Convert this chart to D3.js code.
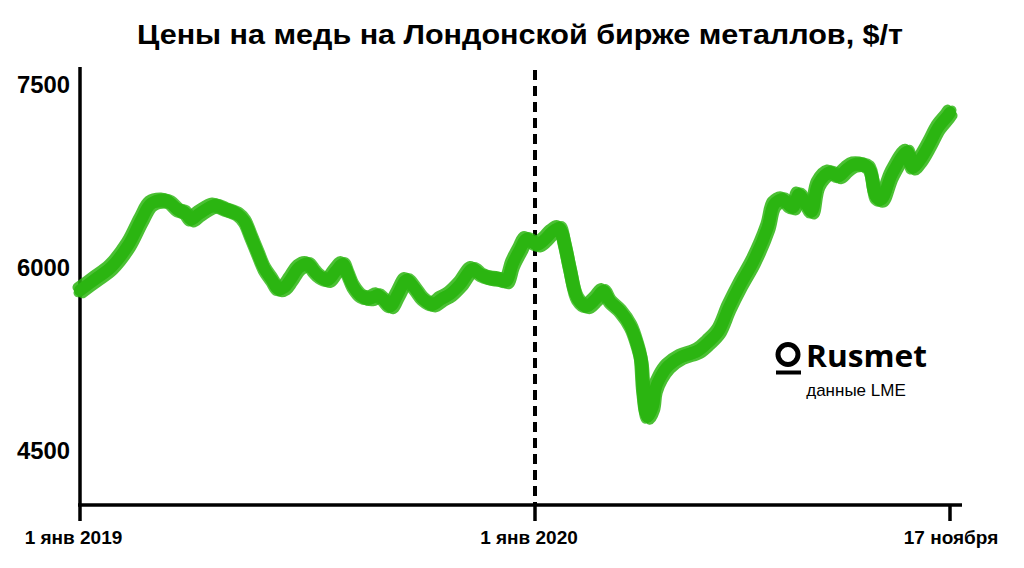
<!DOCTYPE html>
<html>
<head>
<meta charset="utf-8">
<script src="https://cdn.jsdelivr.net/npm/d3@7"></script>
<style>
  body { margin: 0; background: #fff; }
  svg { display: block; }
</style>
</head>
<body>
<svg id="viz"></svg>
<script>
// LME copper, $/t
var dates = [
  "2019-01-01","2019-01-13","2019-01-26","2019-02-09","2019-02-19","2019-02-27","2019-03-09","2019-03-14",
  "2019-03-21","2019-03-26","2019-03-31","2019-04-07","2019-04-19","2019-04-27","2019-05-08","2019-05-13",
  "2019-05-18","2019-05-24","2019-05-29","2019-06-04","2019-06-09","2019-06-14","2019-06-19","2019-06-26",
  "2019-07-03","2019-07-08","2019-07-12","2019-07-19","2019-07-25","2019-07-31","2019-08-04","2019-08-08",
  "2019-08-15","2019-08-22","2019-08-28","2019-09-01","2019-09-07","2019-09-13","2019-09-20","2019-09-27",
  "2019-10-03","2019-10-11","2019-10-18","2019-10-25","2019-11-02","2019-11-12","2019-11-19","2019-11-26",
  "2019-12-04","2019-12-09","2019-12-14","2019-12-20","2019-12-25",
  "2020-01-03","2020-01-09","2020-01-14","2020-01-20","2020-01-24","2020-01-28","2020-02-03","2020-02-10",
  "2020-02-17","2020-02-23","2020-02-28","2020-03-07","2020-03-15","2020-03-20","2020-03-23","2020-03-25",
  "2020-03-28","2020-04-01","2020-04-03","2020-04-07","2020-04-13","2020-04-23","2020-05-06","2020-05-14",
  "2020-05-22","2020-05-30","2020-06-08","2020-06-18","2020-06-29","2020-07-04","2020-07-11","2020-07-16",
  "2020-07-19","2020-07-23","2020-07-28","2020-08-02","2020-08-07","2020-08-16","2020-08-23","2020-08-29",
  "2020-09-04","2020-09-15","2020-09-21","2020-09-25","2020-10-03","2020-10-15","2020-10-19","2020-10-25",
  "2020-11-01","2020-11-08","2020-11-15","2020-11-17"
];
var prices = [
  5815,5905,6005,6190,6390,6525,6550,6535,
  6470,6455,6395,6445,6510,6480,6435,6380,
  6260,6110,5990,5900,5825,5840,5905,6005,
  6030,5970,5930,5900,5970,6030,5945,5850,
  5765,5750,5775,5745,5685,5785,5900,5825,
  5745,5700,5745,5785,5865,5990,5940,5915,
  5905,5890,6030,6150,6235,
  6190,6235,6290,6325,6190,5990,5745,5685,
  5745,5810,5725,5645,5520,5375,5250,4965,
  4780,4860,5005,5105,5195,5270,5320,5390,
  5480,5675,5865,6055,6330,6520,6560,6505,
  6495,6600,6535,6460,6685,6780,6750,6805,
  6845,6820,6575,6560,6765,6950,6820,6885,
  7010,7150,7240,7270
];

var yTicks = [4500, 6000, 7500];
var xTickDates = ["2019-01-01", "2020-01-01", "2020-11-17"];
var xTickLabels = ["1 янв 2019", "1 янв 2020", "17 ноября"];

var titleText = "Цены на медь на Лондонской бирже металлов, $/т";
var brandText = "Rusmet";
var sourceText = "данные LME";

var width = 1024;
var height = 568;
var green = "#2bb511";
var font = "'Liberation Sans', Arial, sans-serif";

var parse = d3.timeParse("%Y-%m-%d");

var svg = d3.select("#viz").attr("width", width).attr("height", height);
svg.append("rect").attr("width", width).attr("height", height).attr("fill", "#fff");

// the time axis is not even: 2020 is squeezed into the space up to 17 Nov
var x = d3.scaleTime()
    .domain(xTickDates.map(parse))
    .range([80, 535, 950]);

var y = d3.scaleLinear()
    .domain([4500, 7500])
    .range([451, 84.5]);

var data = dates.map(function(d, i) {
    return {date: parse(d), value: prices[i]};
});

// title
svg.append("text")
    .attr("x", 520)
    .attr("y", 44)
    .attr("text-anchor", "middle")
    .attr("font-family", font)
    .attr("font-weight", "bold")
    .attr("font-size", 27)
    .attr("textLength", 766)
    .attr("lengthAdjust", "spacingAndGlyphs")
    .attr("fill", "#000")
    .text(titleText);

// y axis: a plain line, labels on the left
svg.append("line")
    .attr("x1", 80).attr("x2", 80)
    .attr("y1", 67).attr("y2", 506)
    .attr("stroke", "#000")
    .attr("stroke-width", 3.5);

svg.selectAll(".ylab")
    .data(yTicks)
    .enter()
    .append("text")
    .attr("class", "ylab")
    .attr("x", 70)
    .attr("y", function(d) { return y(d); })
    .attr("dy", "0.36em")
    .attr("text-anchor", "end")
    .attr("font-family", font)
    .attr("font-weight", "bold")
    .attr("font-size", 23)
    .attr("textLength", 53)
    .attr("lengthAdjust", "spacingAndGlyphs")
    .text(function(d) { return d; });

// x axis
svg.append("line")
    .attr("x1", 78).attr("x2", 962)
    .attr("y1", 505).attr("y2", 505)
    .attr("stroke", "#000")
    .attr("stroke-width", 3.5);

var xt = svg.selectAll(".xtick")
    .data(xTickDates)
    .enter()
    .append("g")
    .attr("class", "xtick")
    .attr("transform", function(d) { return "translate(" + x(parse(d)) + ",0)"; });

xt.append("line")
    .attr("y1", 505).attr("y2", 521)
    .attr("stroke", "#000")
    .attr("stroke-width", 3.5);

xt.append("text")
    .attr("x", function(d, i) { return [-6.5, -6, 1][i]; })
    .attr("y", 544)
    .attr("text-anchor", "middle")
    .attr("font-family", font)
    .attr("font-weight", "bold")
    .attr("font-size", 19)
    .text(function(d, i) { return xTickLabels[i]; });

// dashed marker at 1 Jan 2020
svg.append("line")
    .attr("x1", x(parse("2020-01-01"))).attr("x2", x(parse("2020-01-01")))
    .attr("y1", 70).attr("y2", 505)
    .attr("stroke", "#000")
    .attr("stroke-width", 4)
    .attr("stroke-dasharray", "10,6");

// price line, several overlapping strokes for the marker-pen look
var line = d3.line()
    .x(function(d) { return x(d.date); })
    .y(function(d) { return y(d.value); })
    .curve(d3.curveCatmullRom.alpha(0.5));

var strokes = [
    {dx: -2.5, dy: -3, w: 10, o: 0.85},
    {dx: 2.5, dy: 3, w: 10, o: 0.85},
    {dx: 2, dy: -2.5, w: 9, o: 0.8},
    {dx: -2, dy: 2.5, w: 9, o: 0.8},
    {dx: 0, dy: 0, w: 12, o: 1}
];

svg.append("g").attr("class", "price")
    .selectAll("path")
    .data(strokes)
    .enter()
    .append("path")
    .attr("d", line(data))
    .attr("transform", function(s) { return "translate(" + s.dx + "," + s.dy + ")"; })
    .attr("fill", "none")
    .attr("stroke", green)
    .attr("stroke-width", function(s) { return s.w; })
    .attr("stroke-opacity", function(s) { return s.o; })
    .attr("stroke-linecap", "round")
    .attr("stroke-linejoin", "round");

// logo
var logo = svg.append("g").attr("class", "logo");
logo.append("circle")
    .attr("cx", 788).attr("cy", 354.5)
    .attr("r", 10)
    .attr("fill", "none")
    .attr("stroke", "#000")
    .attr("stroke-width", 5);
logo.append("rect")
    .attr("x", 776).attr("y", 370.5)
    .attr("width", 25).attr("height", 4)
    .attr("fill", "#000");
logo.append("text")
    .attr("x", 806)
    .attr("y", 367)
    .attr("font-family", "'Open Sans', sans-serif")
    .attr("font-weight", 700)
    .attr("font-size", 31)
    .attr("textLength", 121)
    .attr("lengthAdjust", "spacingAndGlyphs")
    .text(brandText);
logo.append("text")
    .attr("x", 856)
    .attr("y", 396)
    .attr("text-anchor", "middle")
    .attr("font-family", font)
    .attr("font-size", 17)
    .text(sourceText);
</script>
</body>
</html>
